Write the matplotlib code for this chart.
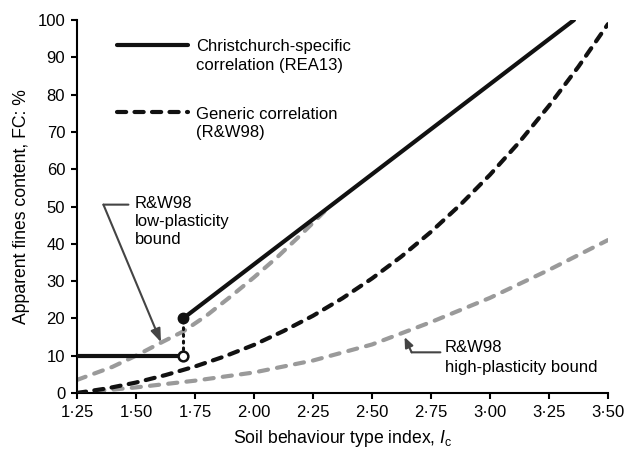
import matplotlib
matplotlib.use("Agg")
import matplotlib.pyplot as plt

plt.rcParams['font.family'] = ['Liberation Sans', 'DejaVu Sans']
plt.rcParams['mathtext.fontset'] = 'custom'
plt.rcParams['mathtext.rm'] = 'Liberation Sans'
plt.rcParams['mathtext.it'] = 'Liberation Sans:italic'

# Christchurch-specific correlation (REA13)
rea_flat_ic = [1.25, 1.70]
rea_flat_fc = [10, 10]
rea_ic = [1.70, 3.356]
rea_fc = [20, 100]

# Generic correlation (R&W98)
gen_ic = [1.25, 1.375, 1.5, 1.625, 1.75, 1.875, 2.0, 2.125, 2.25, 2.375,
          2.5, 2.625, 2.75, 2.875, 3.0, 3.125, 3.25, 3.375, 3.5]
gen_fc = [0.0, 1.2, 2.8, 4.8, 7.1, 9.8, 12.9, 16.6, 20.7, 25.4,
          30.7, 36.6, 43.2, 50.5, 58.5, 67.3, 77.0, 87.5, 98.9]

# R&W98 low-plasticity bound
low_ic = [1.25, 1.4, 1.5, 1.6, 1.7, 1.8, 1.9, 2.0, 2.1, 2.2, 2.32]
low_fc = [3.5, 7.0, 10.0, 13.3, 16.5, 20.8, 25.8, 31.0, 36.5, 42.5, 50.0]

# R&W98 high-plasticity bound
high_ic = [1.25, 1.5, 1.75, 2.0, 2.25, 2.5, 2.75, 3.0, 3.25, 3.5]
high_fc = [0.0, 1.5, 3.3, 5.5, 8.7, 13.0, 19.0, 25.5, 33.0, 41.0]

x_ticks = [1.25, 1.50, 1.75, 2.00, 2.25, 2.50, 2.75, 3.00, 3.25, 3.50]
x_labels = ['1·25', '1·50', '1·75', '2·00', '2·25', '2·50', '2·75', '3·00', '3·25', '3·50']
y_ticks = list(range(0, 101, 10))

black = '#111111'
grey = '#9a9a9a'
arrow_col = '#444444'

fig = plt.figure(figsize=(6.3, 4.55), dpi=100)
ax = fig.add_axes([0.1222, 0.1363, 0.8428, 0.8197])

# bounds (grey, below)
ax.plot(low_ic, low_fc, color=grey, lw=3, dashes=(2.2, 2.2),
        dash_capstyle='round', zorder=2)
ax.plot(high_ic, high_fc, color=grey, lw=3, dashes=(2.2, 2.2),
        dash_capstyle='round', zorder=2)

# generic correlation
ax.plot(gen_ic, gen_fc, color=black, lw=3, dashes=(2.2, 2.0),
        dash_capstyle='round', zorder=3)

# REA13
ax.plot(rea_flat_ic, rea_flat_fc, color=black, lw=3, solid_capstyle='butt', zorder=4)
ax.plot(rea_ic, rea_fc, color=black, lw=3, solid_capstyle='round', zorder=4)
ax.plot([rea_ic[0], rea_ic[0]], [rea_flat_fc[-1], rea_fc[0]], color=black, lw=2.2,
        linestyle=(0, (0.6, 1.6)), dash_capstyle='round', zorder=4)
ax.plot(rea_ic[0], rea_fc[0], 'o', color=black, ms=7.5, zorder=5)
ax.plot(rea_flat_ic[-1], rea_flat_fc[-1], 'o', mfc='white', mec=black, mew=1.8,
        ms=7, zorder=5)

# legend drawn by hand (axes coordinates)
ax.plot([0.076, 0.209], [0.932, 0.932], transform=ax.transAxes, color=black, lw=3,
        solid_capstyle='round')
ax.text(0.224, 0.949, 'Christchurch-specific\ncorrelation (REA13)', transform=ax.transAxes,
        fontsize=12, va='top', ha='left', linespacing=1.3)
ax.plot([0.076, 0.209], [0.753, 0.753], transform=ax.transAxes, color=black, lw=3,
        dashes=(2.2, 2.0), dash_capstyle='round')
ax.text(0.224, 0.768, 'Generic correlation\n(R&W98)', transform=ax.transAxes,
        fontsize=12, va='top', ha='left', linespacing=1.3)

# low-plasticity annotation
ax.text(1.496, 52.8, 'R&W98\nlow-plasticity\nbound', fontsize=12, va='top', ha='left',
        linespacing=1.25)
ax.annotate('', xy=(1.362, 50.5), xytext=(1.468, 50.5),
            arrowprops=dict(arrowstyle='-', color=arrow_col, lw=1.5,
                            shrinkA=0, shrinkB=0))
ax.annotate('', xy=(1.606, 13.6), xytext=(1.362, 50.5),
            arrowprops=dict(arrowstyle='-|>,head_length=0.8,head_width=0.3',
                            color=arrow_col, lw=1.5, shrinkA=0, shrinkB=0))

# high-plasticity annotation
ax.text(2.81, 14.1, 'R&W98\nhigh-plasticity bound', fontsize=12, va='top', ha='left',
        linespacing=1.38)
ax.annotate('', xy=(2.668, 10.9), xytext=(2.79, 10.9),
            arrowprops=dict(arrowstyle='-', color=arrow_col, lw=1.5,
                            shrinkA=0, shrinkB=0))
ax.annotate('', xy=(2.638, 15.0), xytext=(2.668, 10.9),
            arrowprops=dict(arrowstyle='-|>,head_length=0.6,head_width=0.25',
                            color=arrow_col, lw=1.5, shrinkA=0, shrinkB=0))

ax.set_xlim(1.25, 3.5)
ax.set_ylim(0, 100)
ax.set_xticks(x_ticks)
ax.set_xticklabels(x_labels)
ax.set_yticks(y_ticks)

for side in ['top', 'right']:
    ax.spines[side].set_visible(False)
for side in ['left', 'bottom']:
    ax.spines[side].set_linewidth(1.5)
ax.tick_params(axis='both', direction='out', length=4.5, width=1.5, labelsize=12, pad=4)

ax.set_xlabel(r'Soil behaviour type index, $\mathit{I}_\mathrm{c}$', fontsize=12.7, labelpad=6)
ax.set_ylabel('Apparent fines content, FC: %', fontsize=12.7, labelpad=5)

fig.savefig('out.png', dpi=100)
